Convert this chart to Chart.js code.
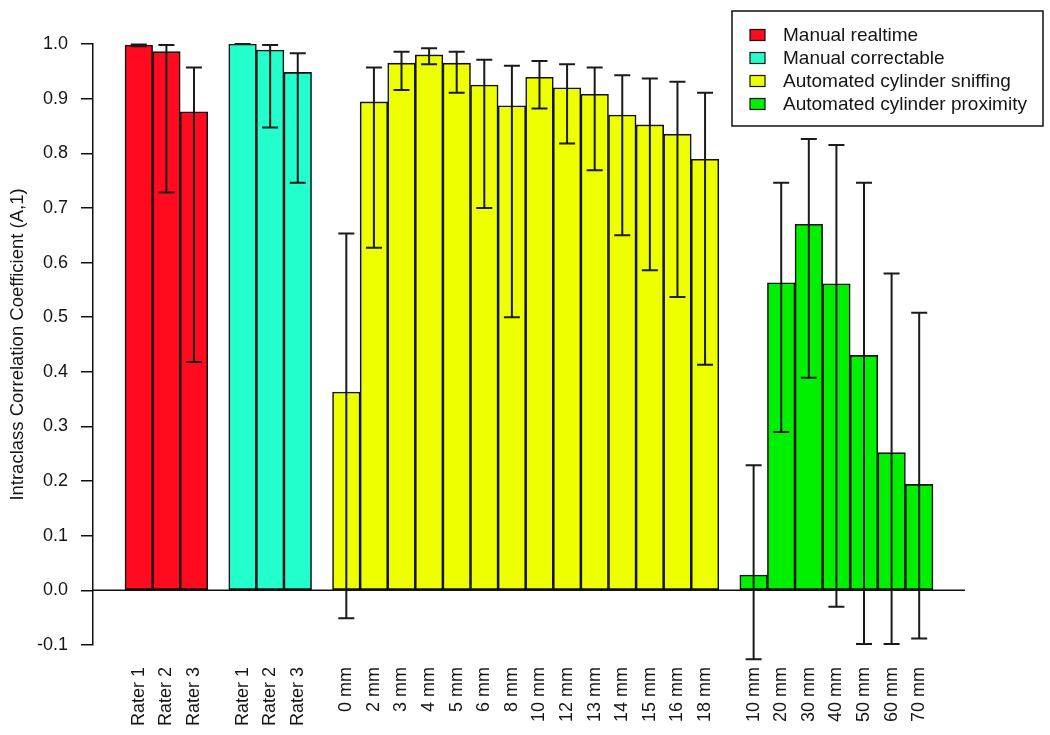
<!DOCTYPE html>
<html>
<head>
<meta charset="utf-8">
<script src="https://cdn.jsdelivr.net/npm/chart.js@4/dist/chart.umd.min.js"></script>
<style>
  html, body { margin: 0; padding: 0; background: #ffffff; }
  canvas { display: block; }
</style>
</head>
<body>
<canvas id="c" width="1050" height="735"></canvas>
<script>
// ---------------- data ----------------
const raterLabels = ['Rater 1', 'Rater 2', 'Rater 3'];
const sniffLabels = ['0 mm', '2 mm', '3 mm', '4 mm', '5 mm', '6 mm', '8 mm', '10 mm', '12 mm', '13 mm', '14 mm', '15 mm', '16 mm', '18 mm'];
const proxLabels = ['10 mm', '20 mm', '30 mm', '40 mm', '50 mm', '60 mm', '70 mm'];

const seriesNames = ['Manual realtime', 'Manual correctable', 'Automated cylinder sniffing', 'Automated cylinder proximity'];

const realtimeValues = [0.998, 0.986, 0.876];
const realtimeLower = [0.996, 0.728, 0.418];
const realtimeUpper = [0.999, 0.998, 0.957];

const correctableValues = [1.000, 0.989, 0.948];
const correctableLower = [1.000, 0.847, 0.746];
const correctableUpper = [1.000, 0.998, 0.983];

const sniffValues = [0.363, 0.894, 0.965, 0.980, 0.965, 0.925, 0.887, 0.939, 0.920, 0.908, 0.870, 0.852, 0.835, 0.789];
const sniffLower = [-0.051, 0.627, 0.916, 0.963, 0.911, 0.700, 0.500, 0.882, 0.818, 0.769, 0.650, 0.586, 0.537, 0.413];
const sniffUpper = [0.653, 0.957, 0.986, 0.992, 0.986, 0.971, 0.960, 0.969, 0.963, 0.957, 0.943, 0.937, 0.931, 0.911];

const proxValues = [0.028, 0.563, 0.670, 0.561, 0.430, 0.252, 0.194];
const proxLower = [-0.126, 0.290, 0.389, -0.030, -0.098, -0.098, -0.088];
const proxUpper = [0.229, 0.746, 0.826, 0.815, 0.746, 0.580, 0.508];

const yTickValues = [-0.1, 0.0, 0.1, 0.2, 0.3, 0.4, 0.5, 0.6, 0.7, 0.8, 0.9, 1.0];
const yTitle = 'Intraclass Correlation Coefficient (A,1)';

// ---------------- layout / styles ----------------
const colors = ['#ff0a1e', '#22ffcc', '#eeff00', '#00f000'];
const FONT = '"Liberation Sans", Arial, Helvetica, sans-serif';
const TEXT = '#151515';
const GAP = 0.76;     // space between groups, in bar widths
const MARGIN = 1.16;  // space before first / after last bar

const groups = [
  { labels: raterLabels, values: realtimeValues, lo: realtimeLower, hi: realtimeUpper },
  { labels: raterLabels, values: correctableValues, lo: correctableLower, hi: correctableUpper },
  { labels: sniffLabels, values: sniffValues, lo: sniffLower, hi: sniffUpper },
  { labels: proxLabels, values: proxValues, lo: proxLower, hi: proxUpper }
];

let offset = 0;
const tickPositions = [];
const tickLabels = [];
const datasets = groups.map((g, gi) => {
  const data = g.values.map((v, i) => {
    const x = offset + i + 0.5;
    tickPositions.push(x);
    tickLabels.push(g.labels[i]);
    return { x: x, y: v, lo: g.lo[i], hi: g.hi[i] };
  });
  offset += g.values.length + GAP;
  return {
    label: seriesNames[gi],
    data: data,
    backgroundColor: colors[gi],
    borderColor: '#111111',
    borderWidth: 1.6,
    borderSkipped: false,
    grouped: false,
    barPercentage: 1.0,
    categoryPercentage: 1.0
  };
});
const xMax = offset - GAP + MARGIN;

const errorBars = {
  id: 'errorBars',
  afterDatasetsDraw(chart) {
    const ctx = chart.ctx;
    const xs = chart.scales.x, ys = chart.scales.y;
    const area = chart.chartArea;
    ctx.save();
    // baseline at zero
    ctx.strokeStyle = '#111111';
    ctx.lineWidth = 1.5;
    ctx.beginPath();
    const y0 = ys.getPixelForValue(0);
    ctx.moveTo(area.left, y0);
    ctx.lineTo(area.right, y0);
    ctx.stroke();
    // error bars
    ctx.lineWidth = 2;
    ctx.strokeStyle = '#1a1a1a';
    const cap = 8;
    chart.data.datasets.forEach(ds => {
      ds.data.forEach(p => {
        const x = xs.getPixelForValue(p.x);
        const yl = ys.getPixelForValue(p.lo);
        const yh = ys.getPixelForValue(p.hi);
        ctx.beginPath();
        ctx.moveTo(x, yl); ctx.lineTo(x, yh);
        ctx.moveTo(x - cap, yl); ctx.lineTo(x + cap, yl);
        ctx.moveTo(x - cap, yh); ctx.lineTo(x + cap, yh);
        ctx.stroke();
      });
    });
    ctx.restore();
  }
};

const legendBox = {
  id: 'legendBox',
  afterDraw(chart) {
    const ctx = chart.ctx;
    ctx.save();
    const bx = 732, by = 11, bw = 311, bh = 115;
    ctx.fillStyle = '#ffffff';
    ctx.fillRect(bx, by, bw, bh);
    ctx.strokeStyle = '#111111';
    ctx.lineWidth = 1.5;
    ctx.strokeRect(bx, by, bw, bh);
    ctx.font = '19px ' + FONT;
    ctx.textBaseline = 'middle';
    ctx.textAlign = 'left';
    chart.data.datasets.forEach((ds, i) => {
      const cy = 35 + i * 23;
      ctx.fillStyle = ds.backgroundColor;
      ctx.fillRect(750, cy - 5.5, 15, 11);
      ctx.strokeStyle = '#111111';
      ctx.lineWidth = 1.2;
      ctx.strokeRect(750, cy - 5.5, 15, 11);
      ctx.fillStyle = TEXT;
      ctx.fillText(ds.label, 783, cy + 1);
    });
    ctx.restore();
  }
};

new Chart(document.getElementById('c'), {
  type: 'bar',
  data: { datasets: datasets },
  options: {
    responsive: false,
    animation: false,
    events: [],
    layout: { padding: { left: 0, top: 44, right: 85, bottom: 0 } },
    plugins: {
      legend: { display: false },
      title: { display: false },
      tooltip: { enabled: false }
    },
    scales: {
      x: {
        type: 'linear',
        offset: false,
        min: -MARGIN,
        max: xMax,
        grid: { display: false, drawTicks: false, offset: false },
        border: { display: false },
        afterBuildTicks(scale) {
          scale.ticks = tickPositions.map(v => ({ value: v }));
        },
        afterFit(scale) { scale.height = 90; },
        ticks: {
          autoSkip: false,
          minRotation: 90,
          maxRotation: 90,
          padding: 22,
          color: TEXT,
          font: { family: FONT, size: 18 },
          callback: (value, index) => tickLabels[index]
        }
      },
      y: {
        type: 'linear',
        min: -0.1,
        max: 1.0,
        afterBuildTicks(scale) {
          scale.ticks = yTickValues.map(v => ({ value: v }));
        },
        afterFit(scale) { scale.width = 93; },
        grid: {
          display: true,
          drawOnChartArea: false,
          drawTicks: true,
          tickLength: 12,
          color: '#111111',
          lineWidth: 1.5
        },
        border: { display: true, color: '#111111', width: 1.5 },
        ticks: {
          padding: 13,
          color: TEXT,
          font: { family: FONT, size: 18 },
          callback: v => v.toFixed(1)
        },
        title: {
          display: true,
          text: yTitle,
          color: TEXT,
          font: { family: FONT, size: 18.5 },
          padding: { top: 7, bottom: 0 }
        }
      }
    }
  },
  plugins: [errorBars, legendBox]
});
</script>
</body>
</html>
